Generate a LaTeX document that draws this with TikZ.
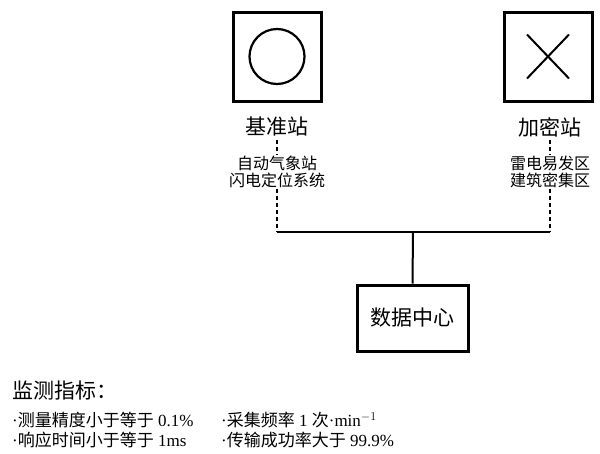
\documentclass[tikz,border=0pt]{standalone}
\usepackage{fontspec}
\setmainfont{Liberation Serif}
\newfontfamily\cjk{Noto Sans CJK SC}
\usetikzlibrary{positioning}

\tikzset{
  stationbox/.style={draw, line width=3pt, minimum width=88pt, minimum height=89pt, inner sep=0pt},
  centerbox/.style={draw, line width=3pt, minimum width=111pt, minimum height=66pt, font=\cjk\fontsize{21}{24}\selectfont},
  title/.style={font=\cjk\fontsize{21}{24}\selectfont},
  subtext/.style={align=center, font=\cjk\fontsize{16}{17}\selectfont, inner sep=1pt},
  link/.style={line width=2pt},
  dashlink/.style={line width=2pt, dash pattern=on 4pt off 3pt},
  legend/.style={anchor=west, inner sep=0pt, align=left, font=\fontsize{17}{20}\selectfont}
}

\begin{document}
\begin{tikzpicture}[x=1pt, y=-1pt]
  \useasboundingbox (0,0) rectangle (600,453);

  % Reference station
  \node[stationbox] (ref) at (277,56.5) {};
  \draw[line width=2.2pt] (ref.center) circle (27.5);
  \node[title] (reflabel) at (277,127) {基准站};
  \node[subtext] (refsub) at (277,171.5) {自动气象站\\闪电定位系统};

  % Encrypted station
  \node[stationbox] (enc) at (548,56.5) {};
  \draw[line width=2pt] ([shift={(-21,-22)}]enc.center) -- ([shift={(21,22)}]enc.center);
  \draw[line width=2pt] ([shift={(-21,22)}]enc.center) -- ([shift={(21,-22)}]enc.center);
  \node[title] (enclabel) at (550,127) {加密站};
  \node[subtext] (encsub) at (550,171.5) {雷电易发区\\建筑密集区};

  % Data centre
  \node[centerbox] (data) at (412.5,318) {数据中心};

  % Bus
  \coordinate (refjoin) at (277,232);
  \coordinate (encjoin) at (550,232);
  \coordinate (busmid) at (413,232);

  \draw[dashlink] (reflabel.south) -- (refsub.north);
  \draw[dashlink] (refsub.south) -- (refjoin);
  \draw[dashlink] (enclabel.south) -- (encsub.north);
  \draw[dashlink] (encsub.south) -- (encjoin);
  \draw[link] (refjoin) -- (encjoin);
  \draw[link] (busmid) -- (data.north);

  % Indicators
  \node[legend, font=\cjk\fontsize{21}{24}\selectfont] (legtitle) at (12,391) {监测指标：};
  \node[legend] (legleft) at (12,430) {·{\cjk 测量精度小于等于} 0.1\%\\·{\cjk 响应时间小于等于} 1ms};
  \node[legend] (legright) at (221,430) {·{\cjk 采集频率} 1 {\cjk 次}·min$^{-1}$\\·{\cjk 传输成功率大于} 99.9\%};

\end{tikzpicture}
\end{document}
